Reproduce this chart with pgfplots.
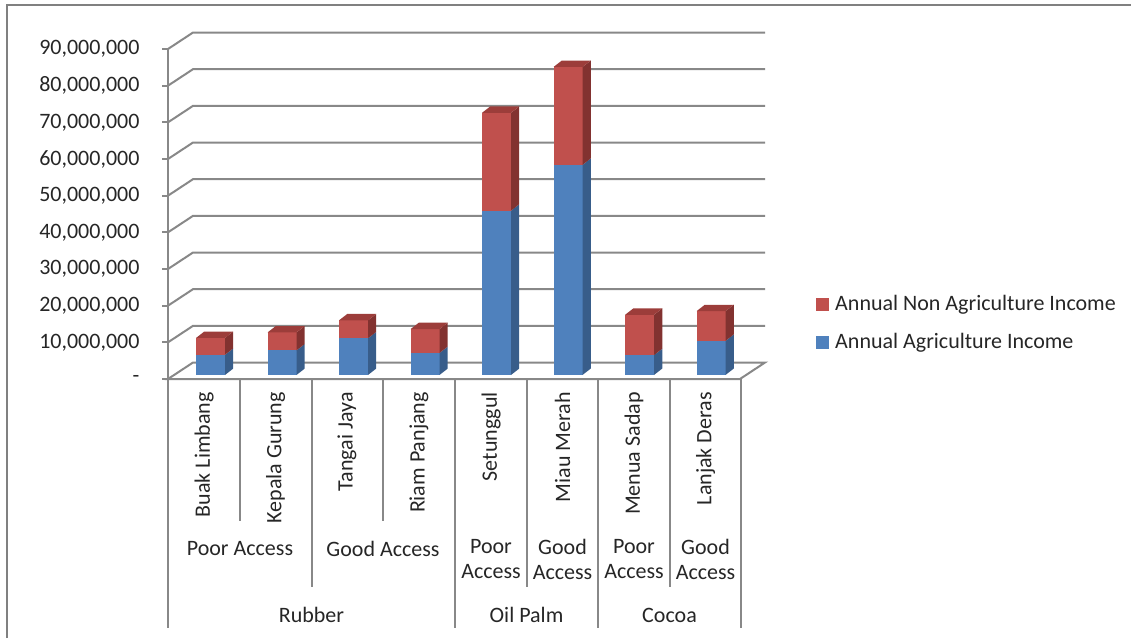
\documentclass[border=0pt]{standalone}
\usepackage{pgfplots}
\pgfplotsset{compat=1.18}
\usepackage{pgfplotstable}
\usepackage{fontspec}
\setmainfont{Carlito}

\definecolor{agri}{HTML}{4F81BD}
\definecolor{agriside}{HTML}{385D8A}
\definecolor{agritop}{HTML}{44709F}
\definecolor{nonagri}{HTML}{C0504D}
\definecolor{nonagriside}{HTML}{823230}
\definecolor{nonagritop}{HTML}{9C3D3A}
\definecolor{wallgrid}{HTML}{888888}
\definecolor{labeltext}{HTML}{262626}

% annual income per village, millions of rupiah
\pgfplotstableread{
idx agri nonagri
0 5.5 4.6
1 6.7 4.9
2 10.0 4.9
3 6.0 6.5
4 44.8 26.7
5 57.3 26.7
6 5.4 11.0
7 9.3 8.1
}\incomedata

% oblique projection: wall depth, bar placement and bar size (axis units)
\def\DX{0.35}\def\DY{4.5}
\def\OX{0.095}\def\OY{1.1}
\def\BX{0.115}\def\BY{1.75}
\def\BW{0.405}

\begin{document}
\begin{tikzpicture}[x=1pt,y=1pt]
\useasboundingbox (0,0) rectangle (1131,638);
\fontsize{22}{25}\selectfont
\begin{axis}[
  at={(168pt,259pt)}, anchor=south west,
  scale only axis, width=572pt, height=330pt,
  xmin=0, xmax=8, ymin=0, ymax=90,
  clip=false,
  axis x line=none, axis y line=left,
  axis line style={-, draw=wallgrid, line width=2pt},
  ytick={0,10,...,90},
  yticklabels={-, {10,000,000}, {20,000,000}, {30,000,000}, {40,000,000},
    {50,000,000}, {60,000,000}, {70,000,000}, {80,000,000}, {90,000,000}},
  tick align=outside, major tick length=6pt,
  tick style={draw=wallgrid, line width=2pt},
  yticklabel style={font=\fontsize{22}{25}\selectfont, text=labeltext, xshift=-15pt},
]
% left wall and back wall gridlines
\pgfplotsinvokeforeach{10,20,...,90}{
  \draw[wallgrid, line width=2pt] (axis cs:0,#1) -- (axis cs:\DX,#1+\DY) -- (axis cs:8+\DX,#1+\DY);
}
% floor
\draw[wallgrid, line width=2pt] (axis cs:0,0) -- (axis cs:\DX,\DY) -- (axis cs:8+\DX,\DY) -- (axis cs:8,0) -- cycle;

% stacked columns with their side and top faces
\pgfplotsinvokeforeach{0,...,7}{
  \pgfplotstablegetelem{#1}{agri}\of\incomedata
  \pgfmathsetmacro\va{\pgfplotsretval}
  \pgfplotstablegetelem{#1}{nonagri}\of\incomedata
  \pgfmathsetmacro\vb{\va+\pgfplotsretval}
  \pgfmathsetmacro\xl{#1+0.5-\BW/2+\OX}
  \pgfmathsetmacro\xr{#1+0.5+\BW/2+\OX}
  \pgfmathsetmacro\xls{\xl+\BX}
  \pgfmathsetmacro\xrs{\xr+\BX}
  \pgfmathsetmacro\yz{\OY}
  \pgfmathsetmacro\ya{\va+\OY}
  \pgfmathsetmacro\yb{\vb+\OY}
  \pgfmathsetmacro\yzs{\OY+\BY}
  \pgfmathsetmacro\yas{\va+\OY+\BY}
  \pgfmathsetmacro\ybs{\vb+\OY+\BY}
  \edef\drawcolumn{
    \noexpand\addplot[forget plot, draw=none, fill=agri] coordinates {(\xl,\yz) (\xr,\yz) (\xr,\ya) (\xl,\ya)};
    \noexpand\addplot[forget plot, draw=none, fill=agriside] coordinates {(\xr,\yz) (\xrs,\yzs) (\xrs,\yas) (\xr,\ya)};
    \noexpand\addplot[forget plot, draw=none, fill=nonagri] coordinates {(\xl,\ya) (\xr,\ya) (\xr,\yb) (\xl,\yb)};
    \noexpand\addplot[forget plot, draw=none, fill=nonagriside] coordinates {(\xr,\ya) (\xrs,\yas) (\xrs,\ybs) (\xr,\yb)};
    \noexpand\addplot[forget plot, draw=none, fill=nonagritop] coordinates {(\xl,\yb) (\xr,\yb) (\xrs,\ybs) (\xls,\ybs)};
  }
  \drawcolumn
}
\end{axis}

% outer frame
\draw[gray, line width=2.5pt] (7,0) -- (7,633) -- (1131,633);

% category table below the floor
\begin{scope}[wallgrid, line width=2pt]
  \draw (168,259) -- (741,259);
  \foreach \x in {168,455,598,741} \draw (\x,259) -- (\x,10);
  \foreach \x in {311.5,526.5,669.5} \draw (\x,259) -- (\x,51);
  \foreach \x in {240,383} \draw (\x,259) -- (\x,117);
\end{scope}
\begin{scope}[text=labeltext, inner sep=0pt]
  \foreach \x/\name in {204/Buak Limbang, 275.5/Kepala Gurung, 347/Tangai Jaya,
      419/Riam Panjang, 491/Setunggul, 562.5/Miau Merah, 634/Menua Sadap, 705.5/Lanjak Deras}
    \node[rotate=90, anchor=east] at (\x,246) {\name};
  \node at (240,89) {Poor Access};
  \node at (383,89) {Good Access};
  \foreach \x/\acc in {491/Poor, 562.5/Good, 634/Poor, 705.5/Good}
    \node[align=center, anchor=north] at (\x,99) {\acc\\Access};
  \node at (311.5,23) {Rubber};
  \node at (526.5,23) {Oil Palm};
  \node at (669.5,23) {Cocoa};
  % legend
  \fill[nonagri] (816,327) rectangle (829,340);
  \node[anchor=west] at (835,333) {Annual Non Agriculture Income};
  \fill[agri] (816,289) rectangle (829,302);
  \node[anchor=west] at (835,295) {Annual Agriculture Income};
\end{scope}
\end{tikzpicture}
\end{document}
